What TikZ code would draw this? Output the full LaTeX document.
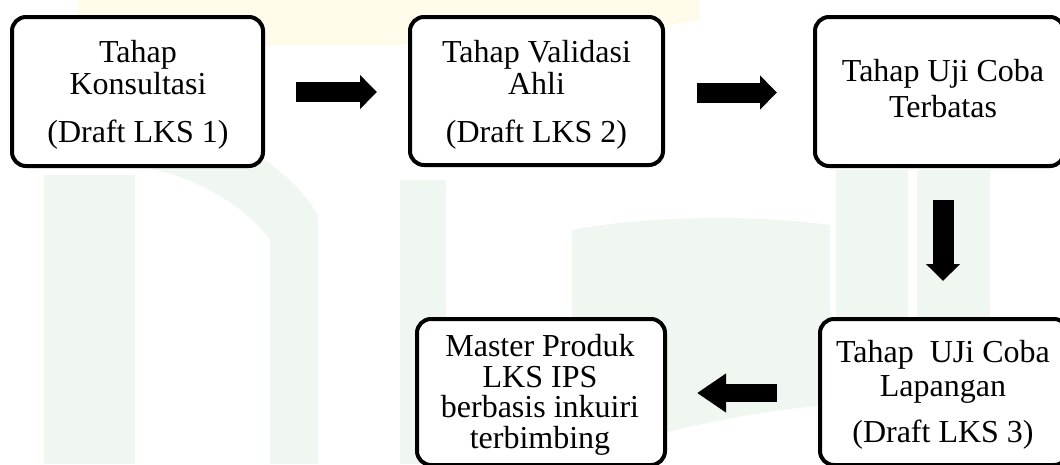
\documentclass[tikz,border=0pt]{standalone}
\usepackage{fontspec}
\setmainfont{Liberation Serif}
\usetikzlibrary{arrows.meta,calc}
\definecolor{wmgreen}{RGB}{239,247,240}
\definecolor{wmyellow}{RGB}{255,251,234}
\begin{document}
\begin{tikzpicture}[x=1pt,y=-1pt,
  box/.style={draw, line width=4pt, rounded corners=14pt, inner sep=0pt, fill=white},
  txt/.style={align=center, inner sep=0pt},
  wmg/.style={fill=wmgreen},
  wmy/.style={fill=wmyellow},
  hblk/.style={line width=20pt, -{Triangle[width=33pt,length=17pt]}},
  vblk/.style={line width=21pt, -{Triangle[width=33pt,length=17pt]}},
  lblk/.style={line width=18pt, -{Triangle[width=37pt,length=29pt]}}]
\useasboundingbox (0,0) rectangle (1060,464);
\clip (0,0) rectangle (1060,464);
\fill[white] (0,0) rectangle (1060,464);
% faint watermark
\fill[wmy] (78,0) -- (700,0) -- (700,20) .. controls (520,48) and (300,50) .. (78,40) -- cycle;
\fill[wmg] (44,175) rectangle (135,464);
\fill[wmg] (917,170) rectangle (990,464);
\fill[wmg] (836,170) rectangle (908,464);
\fill[wmg] (400,180) rectangle (446,464);
\fill[wmg] (572,230) .. controls (650,215) and (760,215) .. (830,225) -- (830,405) .. controls (760,410) and (650,430) .. (572,464) -- cycle;
\fill[wmg] (135,110) .. controls (220,125) and (290,165) .. (318,216) -- (318,464) -- (270,464) -- (270,240) .. controls (240,200) and (190,175) .. (135,165) -- cycle;
% boxes
\node[box, minimum width=251pt, minimum height=149pt] (b1) at (137.5,91.5) {};
\node[box, minimum width=253pt, minimum height=148pt] (b2) at (536.5,91) {};
\node[box, minimum width=249pt, minimum height=149pt] (b3) at (939.5,91.5) {};
\node[box, minimum width=248pt, minimum height=146pt] (b4) at (944,392) {};
\node[box, minimum width=248pt, minimum height=146pt] (b5) at (541,392) {};
% texts
\node[txt, font=\fontsize{32}{32}\selectfont] (t1) at (138,95) {Tahap\\Konsultasi\\[16pt](Draft LKS 1)};
\node[txt, font=\fontsize{32}{32}\selectfont] (t2) at (536.5,95) {Tahap Validasi\\Ahli\\[16pt](Draft LKS 2)};
\node[txt, font=\fontsize{32}{36}\selectfont] (t3) at (943,89) {Tahap Uji Coba\\Terbatas};
\node[txt, font=\fontsize{32}{34}\selectfont] (t4) at (943,395) {Tahap\ \ UJi Coba\\Lapangan\\[12pt](Draft LKS 3)};
\node[txt, font=\fontsize{32}{30.5}\selectfont] (t5) at (540,395) {Master Produk\\LKS IPS\\berbasis inkuiri\\terbimbing};
% arrows
\draw[hblk] ($(b1.east)+(31,0.5)$) -- ($(b2.west)+(-31,1)$);
\draw[hblk] ($(b2.east)+(32,1.5)$) -- ($(b3.west)+(-36,1)$);
\draw[vblk] ($(b3.south)+(3.5,32)$) -- ($(b4.north)+(-1,-36)$);
\draw[lblk] ($(b4.west)+(-41,1)$) -- ($(b5.east)+(30,1)$);
\end{tikzpicture}
\end{document}
